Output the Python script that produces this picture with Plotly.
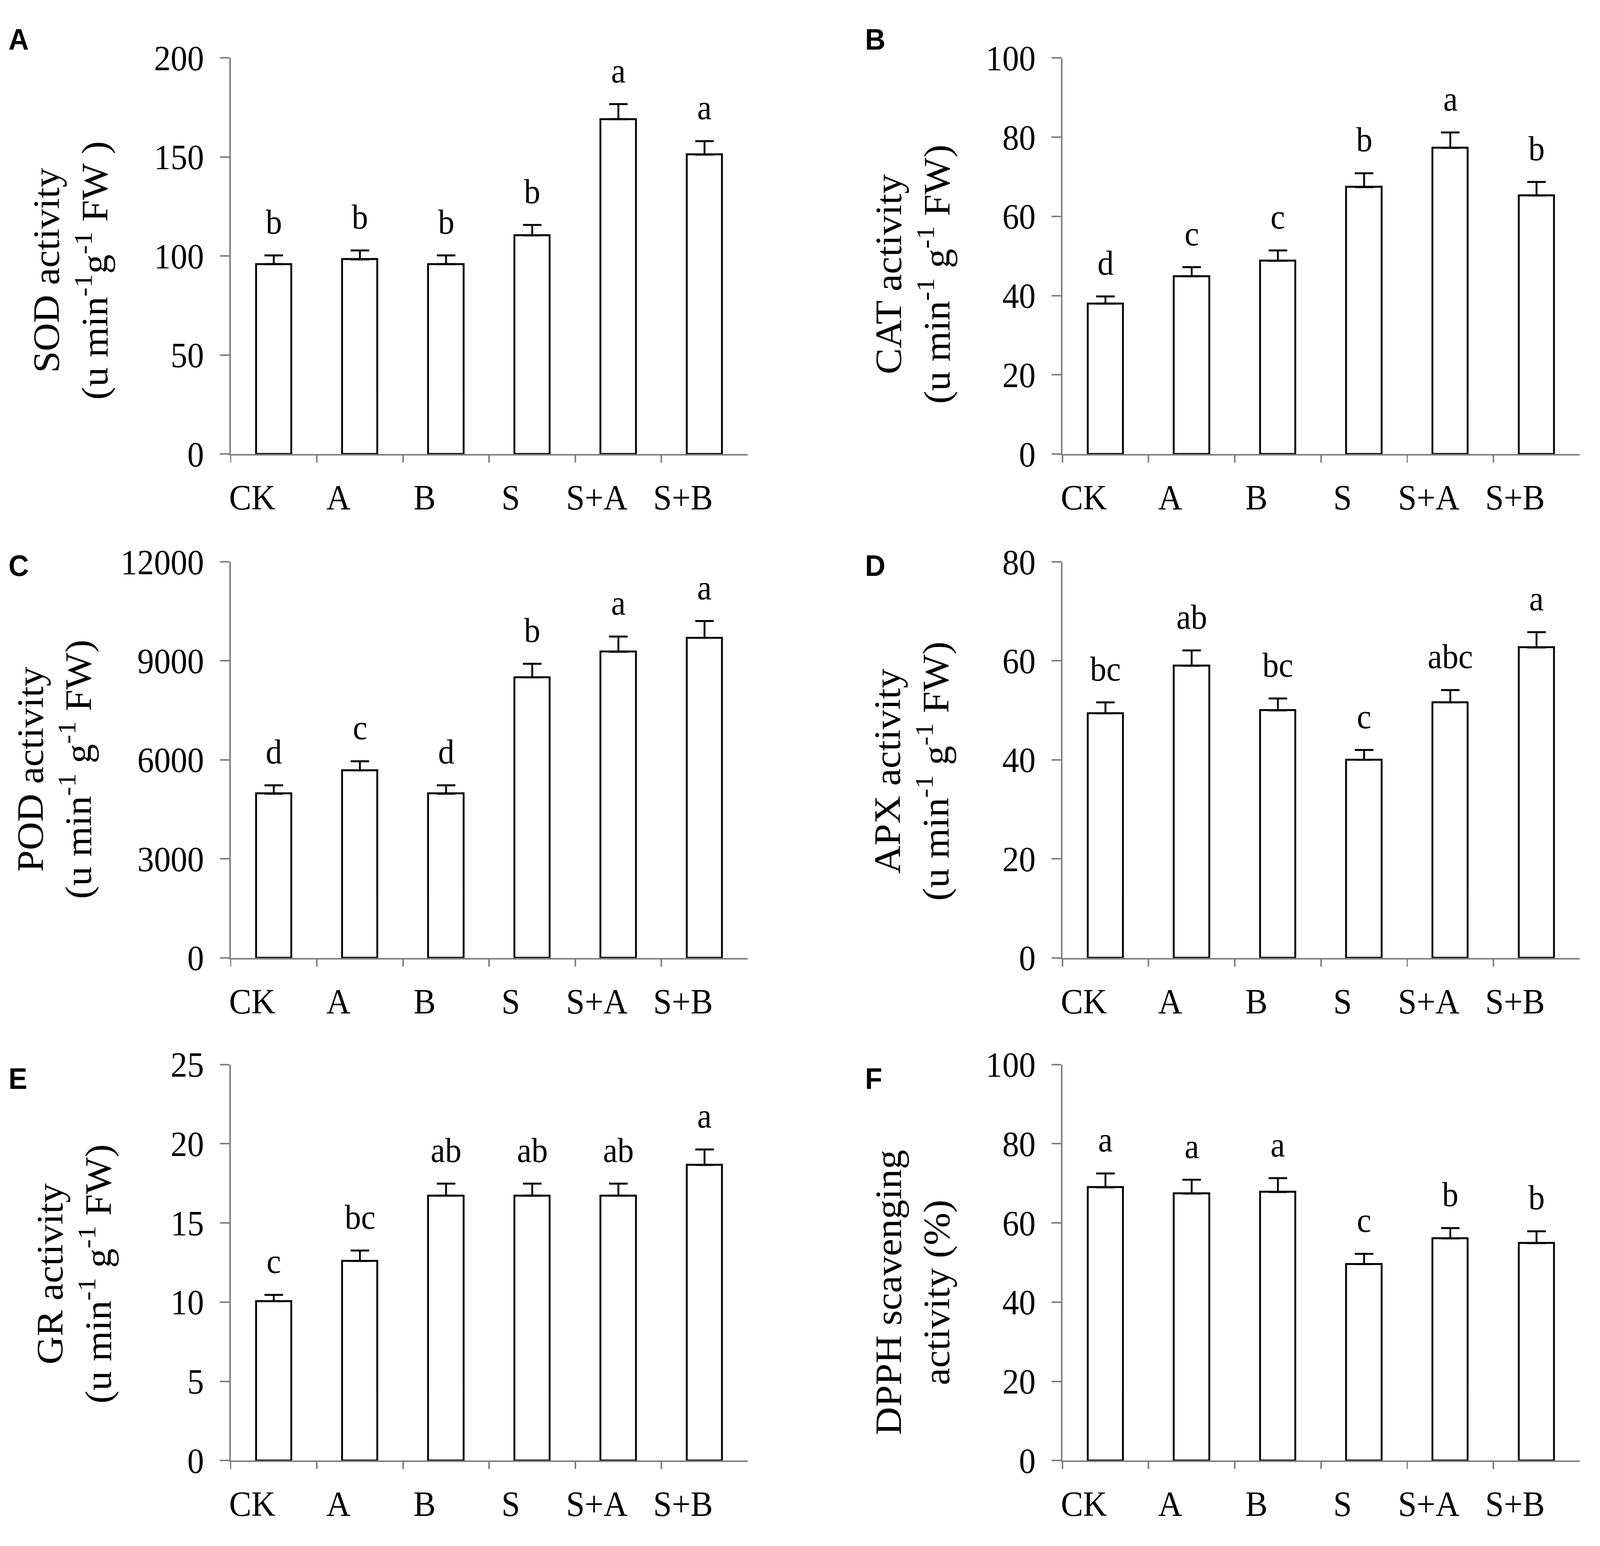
import plotly.graph_objects as go

W, H = 4317, 3957

categories = ["CK", "A", "B", "S", "S+A", "S+B"]

sod = [95.9, 98.3, 95.9, 110.4, 169.1, 151.2]
sod_err = [4.4, 4.5, 4.4, 5.3, 7.6, 6.8]
sod_letters = ["b", "b", "b", "b", "a", "a"]

cat = [38.0, 44.9, 48.8, 67.4, 77.3, 65.3]
cat_err = [1.8, 2.3, 2.6, 3.5, 3.9, 3.4]
cat_letters = ["d", "c", "c", "b", "a", "b"]

pod = [4975, 5682, 4975, 8498, 9273, 9696]
pod_err = [255, 275, 255, 412, 462, 510]
pod_letters = ["d", "c", "d", "b", "a", "a"]

apx = [49.4, 59.0, 50.0, 40.0, 51.6, 62.7]
apx_err = [2.2, 3.1, 2.4, 2.0, 2.5, 3.1]
apx_letters = ["bc", "ab", "bc", "c", "abc", "a"]

gr = [10.06, 12.6, 16.72, 16.72, 16.72, 18.66]
gr_err = [0.4, 0.66, 0.76, 0.76, 0.76, 0.98]
gr_letters = ["c", "bc", "ab", "ab", "ab", "a"]

dpph = [69.0, 67.4, 67.8, 49.6, 56.1, 54.9]
dpph_err = [3.5, 3.5, 3.5, 2.6, 2.6, 3.0]
dpph_letters = ["a", "a", "a", "c", "b", "b"]

panel_labels = ["A", "B", "C", "D", "E", "F"]
y_titles = [
    "SOD activity<br>(u min<sup>-1</sup>g<sup>-1</sup> FW )",
    "CAT activity<br>(u min<sup>-1</sup> g<sup>-1</sup> FW)",
    "POD activity<br>(u min<sup>-1</sup> g<sup>-1</sup> FW)",
    "APX activity<br>(u min<sup>-1</sup> g<sup>-1</sup> FW)",
    "GR activity<br>(u min<sup>-1</sup> g<sup>-1</sup> FW)",
    "DPPH scavenging<br>activity (%)",
]
y_max = [200, 100, 12000, 80, 25, 100]
y_step = [50, 20, 3000, 20, 5, 20]

values = [sod, cat, pod, apx, gr, dpph]
errors = [sod_err, cat_err, pod_err, apx_err, gr_err, dpph_err]
letters = [sod_letters, cat_letters, pod_letters, apx_letters, gr_letters, dpph_letters]

# layout in pixels
col_x = [(619, 2015), (2865, 4262)]
row_y = [(102, 1142), (1425, 2465), (2745, 3785)]
title_x = [187, 2461, 143, 2458, 197, 2461]
title_y = [660, 670, 1970, 1975, 3295, 3343]
label_x = [17, 2330]
label_y = [53, 1435, 2782]

SERIF = "Liberation Serif"
AXCOL = "#808080"

fig = go.Figure()
annotations = []

for i in range(6):
    n = i + 1
    r, c = divmod(i, 2)
    xs = "" if n == 1 else str(n)
    x0, x1 = col_x[c]
    y0, y1 = row_y[r]
    fig.add_trace(go.Bar(
        x=categories, y=values[i],
        xaxis="x" + xs, yaxis="y" + xs,
        width=0.41,
        marker=dict(color="white", line=dict(color="black", width=5)),
        error_y=dict(type="data", symmetric=False, array=errors[i],
                     arrayminus=[0] * 6, color="black", thickness=5, width=25),
        showlegend=False,
    ))
    fig.update_layout(**{
        "xaxis" + xs: dict(
            domain=[x0 / W, x1 / W], anchor="y" + xs,
            type="category", range=[-0.5, 5.5],
            showline=True, linecolor=AXCOL, linewidth=4,
            ticks="outside", tickson="boundaries", ticklen=18, tickwidth=4, tickcolor=AXCOL,
            tickfont=dict(family=SERIF, size=90, color="black"),
            ticklabelshift=-58, ticklabelstandoff=30,
            showgrid=False, zeroline=False, fixedrange=True,
        ),
        "yaxis" + xs: dict(
            domain=[1 - y1 / H, 1 - y0 / H], anchor="x" + xs,
            range=[0, y_max[i]], dtick=y_step[i], tick0=0, tickformat="d",
            showline=True, linecolor=AXCOL, linewidth=4,
            ticks="outside", ticklen=25, tickwidth=4, tickcolor=AXCOL,
            tickfont=dict(family=SERIF, size=90, color="black"),
            ticklabelstandoff=25,
            showgrid=False, zeroline=False, fixedrange=True,
        ),
    })
    for k in range(6):
        annotations.append(dict(
            xref="x" + xs, yref="y" + xs, x=categories[k], y=values[i][k] + errors[i][k],
            text=letters[i][k], showarrow=False, yanchor="bottom", xanchor="center",
            yshift=35, font=dict(family=SERIF, size=88, color="black"),
        ))
    annotations.append(dict(
        xref="paper", yref="paper", x=title_x[i] / W, y=1 - title_y[i] / H,
        text=y_titles[i], textangle=-90, showarrow=False,
        xanchor="center", yanchor="middle",
        font=dict(family=SERIF, size=100, color="black"),
    ))
    annotations.append(dict(
        xref="paper", yref="paper", x=label_x[c] / W, y=1 - label_y[r] / H,
        text="<b>" + panel_labels[i] + "</b>", showarrow=False,
        xanchor="left", yanchor="middle",
        font=dict(family="Liberation Sans", size=76, color="black"),
    ))

fig.update_layout(
    width=W, height=H, margin=dict(l=0, r=0, t=0, b=0),
    paper_bgcolor="white", plot_bgcolor="white",
    annotations=annotations, bargap=0,
)

fit_script = (
    "var gd=document.getElementById('{plot_id}');"
    "document.documentElement.style.margin='0';document.body.style.margin='0';"
    "document.documentElement.style.overflow='hidden';document.body.style.overflow='hidden';"
    "var sx=window.innerWidth/%d, sy=window.innerHeight/%d;"
    "gd.style.transformOrigin='0 0';gd.style.transform='scale('+sx+','+sy+')';" % (W, H)
)

fig.write_html("out.html", post_script=fit_script, config={"displayModeBar": False})
